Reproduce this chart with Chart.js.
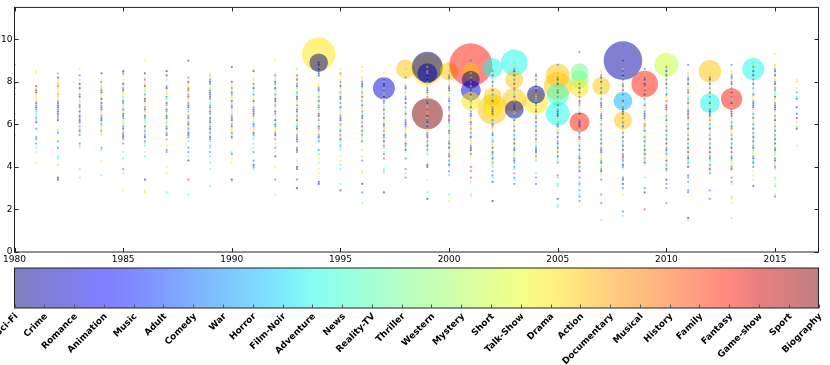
<!DOCTYPE html>
<html>
<head>
<meta charset="utf-8">
<script src="https://cdn.jsdelivr.net/npm/chart.js"></script>
<style>
  html, body { margin: 0; padding: 0; background: #fff; }
  #wrap { position: relative; width: 830px; height: 365px; }
  #main { position: absolute; left: 0; top: 0; }
  #bar { position: absolute; left: 0; top: 260px; }
</style>
</head>
<body>
<div id="wrap">
  <canvas id="main" width="830" height="268"></canvas>
  <canvas id="bar" width="830" height="105"></canvas>
</div>
<script>
/* genres in colour-bar order; one letter code per genre for the dot columns */
var genres = ['Sci-Fi', 'Crime', 'Romance', 'Animation', 'Music', 'Adult', 'Comedy', 'War', 'Horror',
  'Film-Noir', 'Adventure', 'News', 'Reality-TV', 'Thriller', 'Western', 'Mystery', 'Short', 'Talk-Show',
  'Drama', 'Action', 'Documentary', 'Musical', 'History', 'Family', 'Fantasy', 'Game-show', 'Sport', 'Biography'];
var genreCodes = 'abcdefghijklmnopqrstuvwxyzAB';

var xTicks = [1980, 1985, 1990, 1995, 2000, 2005, 2010, 2015];
var yTicks = [0, 2, 4, 6, 8, 10];

/* one column of small dots per year.
   token "NN:abc" = rating NN/10 with genre a, then NN-1 with genre b, ... ('.' = no film) */
var years = [1980, 1981, 1982, 1983, 1984, 1985, 1986, 1987, 1988, 1989, 1990, 1991, 1992, 1993,
  1994, 1995, 1996, 1997, 1998, 1999, 2000, 2001, 2002, 2003, 2004, 2005, 2006, 2007, 2008,
  2009, 2010, 2011, 2012, 2013, 2014, 2015, 2016];
var columns = [
  '88:B 83:s 79:g.b.sg.t.k 65:g..b...k..g..k 33:k',
  '85:ss 78:BtBatsstagbgkkngkb 58:g...gg.g.k.s....s',
  '84:w.bsstysstwtsgcbbgcbgyb 58:skg 52:g 49:g 45:kk 41:t 35:bc',
  '86:s 83:g 81:k 79:bsatsgbsktbgsatbgcbsgkbtg 51:gts 39:k 35:k',
  '84:c 81:s 80:gstkBbtsanbgcbtsgbakgtsgts 49:gk 43:s 36:k',
  '85:ayt.s 79:bsgatsksbgtncsbagsktgbsgabg 51:g 47:n 44:k 39:y 37:k 29:s',
  '90:s 84:a 82:sgstbsktgsabtsgctsbgknsbtgkgbsgsk 47:s 45:k 34:a 29:ss',
  '85:a.b.k 78:gbstsgknbysagtcbsktgbsgb 53:x 50:s 48:gg 40:s 37:s 28:k',
  '90:a 82:gsbtsyBsgbtsgcbkwsgbtgbsgkbcg 52:k 49:g 47:g 45:n 43:a 34:y 27:k',
  '84:sk 82:sgbgstgcbagskgbtbgsbgctgbkgsbg 52:k.ik 47:g 45:k 42:k 39:k 31:k',
  '87:B 80:bstgsbgtsakgbsntgbcsgbtsgkbs 47:kg 44:s 42:s 34:a 33:n',
  '86:sa..st 79:gsbtkgsnbtsgcbagtskbgtsbgnk 51:k 49:n 47:g 43:g 41:agk',
  '90:s 84:sg 82:tsbgsaktgsbctgksbgtsanbgstgbs 53:y.t.g.n.a 40:s 34:g 27:n',
  '86:t 83:ytBsgbtsgkabtsgnbcsgtbskgbtsgybg 49:gay 43:n 40:aa 34:g 30:a',
  '89:bb.bgab 79:stgbksgtbsgcksbatgsnbgtsgbkg 48:g.k.s.n 39:s 37:s 33:aa',
  '86:n.yt 81:sgtbksgtbasgnbkstgcbsgtkbsgtbksgnk 45:s 43:t 41:k.k 32:k 29:a',
  '87:t.s 82:tsgbaksgtBsgnbtsgkcbsgtasbkgtsg 48:s 45:n 43:g 38:ns 32:a 28:g 23:n',
  '84:t 82:sgtbcsgktbsagtnbsgkctsbgtysbgkasg 49:k.sg.y 39:kkt 28:a',
  '86:t 82:g 79:sgbtksgatbsgnkbtsgcbgtskbgtsagkbn 44:g 39:g 37:k 35:g',
  '87:s 85:tsbgakstgbcsytgbksgtnbsgakbtsgcbsgkbtgs 46:k 41:aa 34:s 28:k 25:a',
  '85:tsgbkstgabsntgbkscgtsbyagtksbgtnsgbkastgbsgkbs 38:g.k 27:k 24:s',
  '90:g 84:sgtbkysgatbsngtkbsgcatsbgtysgkbntsgabtgs 40:y.y 35:y 33:n 27:k 26:s',
  '86:k 85:gsbtkasgtbsgnkbtsgcbatsgkbytsgbnkgstbsagkbsgt 40:k.g.gk.a 24:a',
  '89:kstgbkasgtbsygnkbtsgcabtsgkbstgnbsgkatbsgbktsgbg 40:gk.y.gk 32:g',
  '84:t 83:bsgtkasbgtsnkbgsyctgbsakgtbsgnbtskgbasgtk 37:k.g..g',
  '88:g 84:tsgbkatsgbsgnktbsgcabtskgbstgnbsgakbtgsbksg 36:yk 32:kk 25:a 22:kk',
  '94:g 80:sgtbkasgtbygsnkbtsgcabtsgkbystgnbskgatbsgkb 35:g.kgk.g 27:kg.g 21:s',
  '85:tsgbkatsgnbtsgkcbystgabksgtnbsgkatbsgcbkstgbskgbs 36:s 34:g 27:g 23:g 15:k',
  '90:B 86:sgtbkysgatbsgnkbtsgcabtysgkbstgnbsgkatbsgbygkbgs 35:gb.a.g 27:s 19:g 17:k',
  '86:g 84:tsgbkaysgtbsgnkbtsgcabtsgykbstgnbsgkatbsgkbs 35:k 30:g.a 20:y',
  '88:sgtbkasgtbsgnkbtsyscabtsgkbstgnbsgkatbsgbkgstbsgkbt 34:a.g.g 23:g',
  '88:g 84:tsgbkastgbsngkbtsgcaybtsgkbstgnbsgkatbsgbkgsb 36:gg.g 29:gg 16:at',
  '84:tsgbkasgtbsgnkbtsgcabtysgkbstgnbsgkatbsgbksgtbsg 29:g 25:g',
  '88:g 85:tsgbkyasgtbsgnkbtsgcabtsgkbystgnbsgkatbsgbkstgbs 35:g.gn 26:ks.s 16:t',
  '91:s 89:ksgtbkasgtbsgnkbtsgcabtsgkbstgnbsgkatbsgbktsgbkasg 38:s.q.s..a',
  '93:s 88:tsgbkastgbsygnkbtsgcabtsgkbstgnbsgkatbsgbktsgbstgk 35:ks.sk 27:tg',
  '81:s 80:t 77:s 75:g 73:k 72:c 68:a 65:a.a 61:t 59:k 58:a 50:n'
];

/* the large bubbles (most voted films) */
var bubbleYear = [1994, 1994, 1997, 1998, 1999, 1999, 1999, 1999, 2000, 2001, 2001, 2001, 2001, 2001,
  2002, 2002, 2002, 2002, 2003, 2003, 2003, 2003, 2004, 2004, 2005, 2005, 2005, 2005,
  2006, 2006, 2006, 2006, 2007, 2008, 2008, 2008, 2009, 2010, 2012, 2012, 2013, 2014];
var bubbleRating = [9.3, 8.9, 7.7, 8.6, 8.6, 8.7, 8.4, 6.5, 8.5, 8.8, 8.5, 8.1, 7.6, 7.1,
  8.65, 6.7, 6.8, 7.3, 8.9, 8.1, 7.15, 6.7, 7.05, 7.4, 8.3, 7.8, 7.4, 6.5,
  8.45, 8.1, 7.7, 6.1, 7.8, 9.0, 7.1, 6.2, 7.9, 8.8, 8.5, 7.0, 7.2, 8.6];
var bubbleSize = [16.7, 9.3, 11, 9.5, 16, 15.3, 10, 15.5, 9.2, 21.5, 8.7, 9, 10, 9.3,
  10, 15, 10, 9, 13.3, 9, 12, 9.3, 12, 9, 12, 14, 11, 12,
  9, 9.3, 9.3, 10, 9, 19.3, 9.3, 9, 13.3, 12, 11.3, 10, 10.7, 11];
var bubbleGenre = ['Drama', 'Sci-Fi', 'Romance', 'Action', 'Drama', 'Sci-Fi', 'Crime', 'Biography', 'Action',
  'Fantasy', 'Action', 'Sci-Fi', 'Romance', 'Drama', 'Adventure', 'Action', 'Drama', 'Action',
  'Adventure', 'Action', 'Action', 'Sci-Fi', 'Drama', 'Crime', 'Action', 'Action', 'News', 'Adventure',
  'Thriller', 'Thriller', 'Drama', 'Fantasy', 'Action', 'Crime', 'Horror', 'Action', 'Fantasy', 'Short',
  'Action', 'Adventure', 'Fantasy', 'Adventure'];

/* matplotlib "jet" colormap */
function jet(t) {
  function seg(pts) {
    for (var i = 1; i < pts.length; i++) {
      if (t <= pts[i][0]) {
        var f = (t - pts[i - 1][0]) / (pts[i][0] - pts[i - 1][0]);
        return pts[i - 1][1] + f * (pts[i][1] - pts[i - 1][1]);
      }
    }
    return pts[pts.length - 1][1];
  }
  return [
    seg([[0, 0], [0.35, 0], [0.66, 1], [0.89, 1], [1, 0.5]]),
    seg([[0, 0], [0.125, 0], [0.375, 1], [0.64, 1], [0.91, 0], [1, 0]]),
    seg([[0, 0.5], [0.11, 1], [0.34, 1], [0.65, 0], [1, 0]])
  ];
}
function genreColor(i, a) {
  var c = jet(i / (genres.length - 1));
  return 'rgba(' + Math.round(c[0] * 255) + ',' + Math.round(c[1] * 255) + ',' + Math.round(c[2] * 255) + ',' + a + ')';
}

/* build the dot data from the columns */
var dots = [], dotColors = [];
years.forEach(function (yr, n) {
  columns[n].split(' ').forEach(function (tok) {
    var parts = tok.split(':');
    var start = parseInt(parts[0], 10);
    for (var k = 0; k < parts[1].length; k++) {
      var ch = parts[1][k];
      if (ch === '.') continue;
      dots.push({ x: yr, y: (start - k) / 10 });
      dotColors.push(genreColor(genreCodes.indexOf(ch), 0.5));
    }
  });
});

var bubbles = bubbleYear.map(function (yr, i) { return { x: yr, y: bubbleRating[i], r: bubbleSize[i] }; });
var bubbleColors = bubbleGenre.map(function (g) { return genreColor(genres.indexOf(g), 0.5); });

Chart.defaults.font.family = '"DejaVu Sans", sans-serif';
Chart.defaults.font.size = 9;
Chart.defaults.color = '#000';

var framePlugin = {
  id: 'frame',
  afterDraw: function (chart) {
    var ctx = chart.ctx, a = chart.chartArea, x = chart.scales.x, y = chart.scales.y;
    ctx.save();
    ctx.strokeStyle = '#222';
    ctx.lineWidth = 1;
    ctx.strokeRect(a.left, a.top, a.right - a.left, a.bottom - a.top);
    ctx.beginPath();
    xTicks.forEach(function (v) {
      var px = Math.round(x.getPixelForValue(v)) + 0.5;
      ctx.moveTo(px, a.bottom); ctx.lineTo(px, a.bottom - 4);
      ctx.moveTo(px, a.top); ctx.lineTo(px, a.top + 4);
    });
    yTicks.forEach(function (v) {
      var py = Math.round(y.getPixelForValue(v)) + 0.5;
      ctx.moveTo(a.left, py); ctx.lineTo(a.left + 4, py);
      ctx.moveTo(a.right, py); ctx.lineTo(a.right - 4, py);
    });
    ctx.stroke();
    ctx.restore();
  }
};

new Chart(document.getElementById('main'), {
  type: 'bubble',
  data: {
    datasets: [
      { type: 'scatter', data: dots, pointRadius: 1.1, pointHoverRadius: 1.1, pointBorderWidth: 0,
        pointBackgroundColor: dotColors, order: 0 },
      { type: 'bubble', data: bubbles, backgroundColor: bubbleColors, borderWidth: 0, hoverRadius: 0, order: 1 }
    ]
  },
  options: {
    responsive: false, animation: false, devicePixelRatio: 1, events: [],
    layout: { autoPadding: false, padding: { left: 0, right: 11.5, top: 2.5, bottom: 0 } },
    plugins: { legend: { display: false }, tooltip: { enabled: false } },
    scales: {
      x: {
        type: 'linear', min: 1980, max: 2017,
        afterBuildTicks: function (s) { s.ticks = xTicks.map(function (v) { return { value: v }; }); },
        afterFit: function (s) { s.height = 16; },
        grid: { display: false, drawTicks: false }, border: { display: false },
        ticks: { padding: 2, maxRotation: 0, callback: function (v) { return String(v); } }
      },
      y: {
        type: 'linear', min: 0, max: 11.5,
        afterBuildTicks: function (s) { s.ticks = yTicks.map(function (v) { return { value: v }; }); },
        afterFit: function (s) { s.width = 14.5; },
        grid: { display: false, drawTicks: false }, border: { display: false },
        ticks: { padding: 2 }
      }
    }
  },
  plugins: [framePlugin]
});

/* colour bar with the genre names */
var barPlugin = {
  id: 'cbar',
  afterDraw: function (chart) {
    var ctx = chart.ctx, a = chart.chartArea, x = chart.scales.x;
    ctx.save();
    ctx.strokeStyle = '#222';
    ctx.lineWidth = 1;
    ctx.strokeRect(a.left, a.top, a.right - a.left, a.bottom - a.top);
    ctx.beginPath();
    genres.forEach(function (g, i) {
      var px = Math.round(x.getPixelForValue(i)) + 0.5;
      ctx.moveTo(px, a.bottom); ctx.lineTo(px, a.bottom - 3.5);
    });
    ctx.strokeStyle = '#555';
    ctx.stroke();
    ctx.fillStyle = '#000';
    ctx.font = 'bold 9px "DejaVu Sans"';
    ctx.textAlign = 'right';
    ctx.textBaseline = 'middle';
    genres.forEach(function (g, i) {
      ctx.save();
      ctx.translate(x.getPixelForValue(i) + 2, a.bottom + 7);
      ctx.rotate(-Math.PI / 4);
      ctx.fillText(g, 0, 0);
      ctx.restore();
    });
    ctx.restore();
  }
};

new Chart(document.getElementById('bar'), {
  type: 'bar',
  data: {
    labels: ['genre'],
    datasets: [{
      data: [[0, genres.length - 1]],
      borderWidth: 0,
      barPercentage: 1,
      categoryPercentage: 1,
      backgroundColor: function (c) {
        var a = c.chart.chartArea;
        if (!a) return 'transparent';
        var grad = c.chart.ctx.createLinearGradient(a.left, 0, a.right, 0);
        genres.forEach(function (g, i) { grad.addColorStop(i / (genres.length - 1), genreColor(i, 0.5)); });
        return grad;
      }
    }]
  },
  options: {
    indexAxis: 'y',
    responsive: false, animation: false, devicePixelRatio: 1, events: [],
    layout: { autoPadding: false, padding: { left: 14.5, right: 11.5, top: 8, bottom: 57 } },
    plugins: { legend: { display: false }, tooltip: { enabled: false } },
    scales: {
      x: { type: 'linear', min: 0, max: genres.length - 1, display: false },
      y: { type: 'category', display: false }
    }
  },
  plugins: [barPlugin]
});
</script>
</body>
</html>
